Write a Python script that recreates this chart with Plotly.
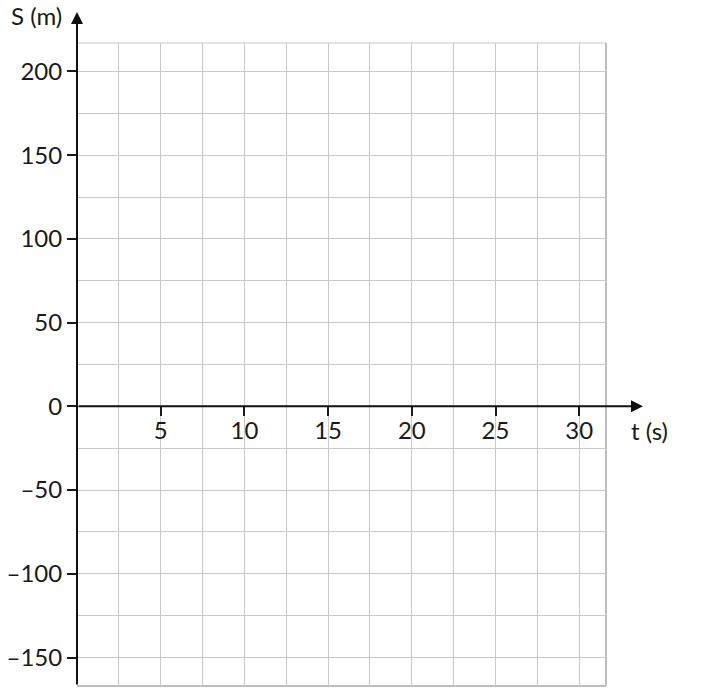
import plotly.graph_objects as go

# Axis data
x_range = [0, 31.6]
y_range = [-167, 217]
x_tickvals = [5, 10, 15, 20, 25, 30]
x_ticktext = ["5", "10", "15", "20", "25", "30"]
y_tickvals = [-150, -100, -50, 0, 50, 100, 150, 200]
y_ticktext = ["\u2013150", "\u2013100", "\u201350", "0", "50", "100", "150", "200"]
x_minor_step = 2.5
y_minor_step = 25
x_title = "t (s)"
y_title = "S (m)"

FONT = "Lato"
FS = 24
TXT = "#1a1a1a"
GRID = "#c8c8c8"
W, H = 710, 696
# plot area in window pixels: left 77, right 606, top 43, bottom 686
L, T = 77, 43
R = W - 606
B = H - 686
pw, ph = W - L - R, H - T - B

def px_to_paper_x(px):
    return (px - L) / pw

def px_to_paper_y(py):
    return (H - B - py) / ph

y0_paper = (0 - y_range[0]) / (y_range[1] - y_range[0])

fig = go.Figure()
fig.add_trace(go.Scatter(x=[None], y=[None], showlegend=False, hoverinfo="skip"))

fig.update_layout(
    width=W, height=H,
    margin=dict(l=L, r=R, t=T, b=B, pad=0, autoexpand=False),
    paper_bgcolor="white", plot_bgcolor="white",
    showlegend=False,
    font=dict(family=FONT, size=FS, color=TXT),
    xaxis=dict(
        range=x_range, anchor="free", position=y0_paper, automargin=False,
        tickmode="array", tickvals=x_tickvals, ticktext=x_ticktext,
        ticks="outside", ticklen=9, tickwidth=1.5, tickcolor=TXT,
        ticklabelstandoff=-6,
        showline=False, zeroline=False,
        showgrid=True, gridcolor=GRID, gridwidth=1,
        minor=dict(tick0=0, dtick=x_minor_step, showgrid=True, gridcolor=GRID, gridwidth=1, ticks=""),
        tickfont=dict(family=FONT, size=FS, color=TXT),
        fixedrange=True,
    ),
    yaxis=dict(
        range=y_range, automargin=False,
        tickmode="array", tickvals=y_tickvals, ticktext=y_ticktext,
        ticks="outside", ticklen=9, tickwidth=1.5, tickcolor=TXT,
        showline=False, zeroline=False,
        showgrid=True, gridcolor=GRID, gridwidth=1,
        minor=dict(tick0=0, dtick=y_minor_step, showgrid=True, gridcolor=GRID, gridwidth=1, ticks=""),
        tickfont=dict(family=FONT, size=FS, color=TXT),
        fixedrange=True,
    ),
)

# plot border (top, right, bottom) in light gray
fig.add_shape(type="line", xref="paper", yref="paper", x0=0, x1=1, y0=1, y1=1,
              line=dict(color=GRID, width=1.2), layer="below")
fig.add_shape(type="line", xref="paper", yref="paper", x0=1, x1=1, y0=0, y1=1,
              line=dict(color="#bdbdbd", width=2), layer="below")
fig.add_shape(type="line", xref="paper", yref="paper", x0=0, x1=1, y0=0, y1=0,
              line=dict(color="#bdbdbd", width=2), layer="below")

# axis arrows
fig.add_annotation(xref="paper", yref="paper", x=px_to_paper_x(643), y=y0_paper,
                   ax=-(643 - L), ay=0, axref="pixel", ayref="pixel",
                   text="", showarrow=True, arrowhead=2, arrowsize=1.2, arrowwidth=2,
                   arrowcolor="#111111", standoff=0, startstandoff=0)
fig.add_annotation(xref="paper", yref="paper", x=0, y=px_to_paper_y(12),
                   ax=0, ay=(686 - 12), axref="pixel", ayref="pixel",
                   text="", showarrow=True, arrowhead=2, arrowsize=1.2, arrowwidth=2,
                   arrowcolor="#111111", standoff=0, startstandoff=0)

# axis titles
fig.add_annotation(xref="paper", yref="paper", x=px_to_paper_x(36), y=px_to_paper_y(16),
                   text=y_title, showarrow=False, xanchor="center", yanchor="middle",
                   font=dict(family=FONT, size=FS, color=TXT))
fig.add_annotation(xref="paper", yref="paper", x=px_to_paper_x(649), y=px_to_paper_y(430),
                   text=x_title, showarrow=False, xanchor="center", yanchor="middle",
                   font=dict(family=FONT, size=FS, color=TXT))

fig.write_html(
    "out.html",
    config={"displayModeBar": False},
    post_script="document.body.style.margin='0';document.body.style.overflow='hidden';",
)
